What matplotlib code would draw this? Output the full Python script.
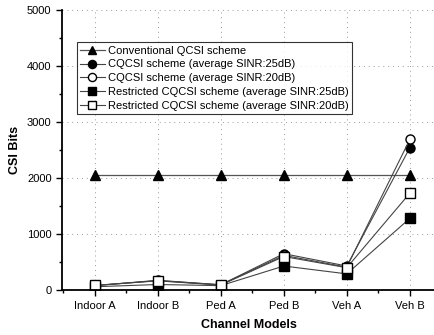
import matplotlib
matplotlib.use("Agg")
import matplotlib.pyplot as plt
from matplotlib.ticker import MultipleLocator

categories = ["Indoor A", "Indoor B", "Ped A", "Ped B", "Veh A", "Veh B"]
conventional = [2048, 2048, 2048, 2048, 2048, 2048]
cqcsi_25 = [80, 170, 95, 650, 430, 2540]
cqcsi_20 = [80, 175, 95, 620, 410, 2690]
restricted_25 = [60, 100, 80, 430, 290, 1280]
restricted_20 = [85, 165, 90, 600, 400, 1730]

plt.rcParams['font.family'] = ['Liberation Sans', 'DejaVu Sans']

fig = plt.figure(figsize=(4.35, 3.35), dpi=100)
ax = fig.add_axes([0.1425, 0.134, 0.8575, 0.836])
x = list(range(1, len(categories) + 1))

ms = 6.5
ax.plot(x, conventional, color='#555555', lw=0.9, marker='^', ms=ms, mfc='black', mec='black',
        label='Conventional QCSI scheme')
ax.plot(x, cqcsi_25, color='#444444', lw=0.8, marker='o', ms=ms, mfc='black', mec='black',
        label='CQCSI scheme (average SINR:25dB)')
ax.plot(x, cqcsi_20, color='#444444', lw=0.8, marker='o', ms=ms, mfc='white', mec='black',
        label='CQCSI scheme (average SINR:20dB)')
ax.plot(x, restricted_25, color='#444444', lw=0.8, marker='s', ms=ms, mfc='black', mec='black',
        label='Restricted CQCSI scheme (average SINR:25dB)')
ax.plot(x, restricted_20, color='#444444', lw=0.8, marker='s', ms=ms, mfc='white', mec='black',
        label='Restricted CQCSI scheme (average SINR:20dB)')

ax.set_xlim(0.48, 6.4)
ax.set_ylim(0, 5000)
ax.set_xticks(x)
ax.set_xticklabels(categories, fontsize=8)
ax.xaxis.set_minor_locator(MultipleLocator(0.5))
ax.yaxis.set_major_locator(MultipleLocator(1000))
ax.yaxis.set_minor_locator(MultipleLocator(500))
ax.tick_params(axis='both', which='major', direction='out', length=4, width=1, labelsize=8)
ax.tick_params(axis='both', which='minor', direction='out', length=2.5, width=1)

for s in ['top', 'right']:
    ax.spines[s].set_visible(False)
for s in ['left', 'bottom']:
    ax.spines[s].set_linewidth(1.3)

ax.grid(True, which='major', color='#999999', linestyle=(0, (1, 4)), lw=0.7)
ax.set_axisbelow(True)

ax.set_xlabel('Channel Models', fontsize=9, fontweight='bold', labelpad=6)
ax.set_ylabel('CSI Bits', fontsize=9, fontweight='bold', labelpad=4)

leg = ax.legend(loc='upper left', bbox_to_anchor=(0.04, 0.885), fontsize=8, frameon=True,
                fancybox=False, edgecolor='black', handlelength=2.2, handletextpad=0.3,
                borderpad=0.3, labelspacing=0.35, borderaxespad=0, markerscale=0.9)
leg.get_frame().set_linewidth(0.8)

fig.savefig('out.png', dpi=100)
